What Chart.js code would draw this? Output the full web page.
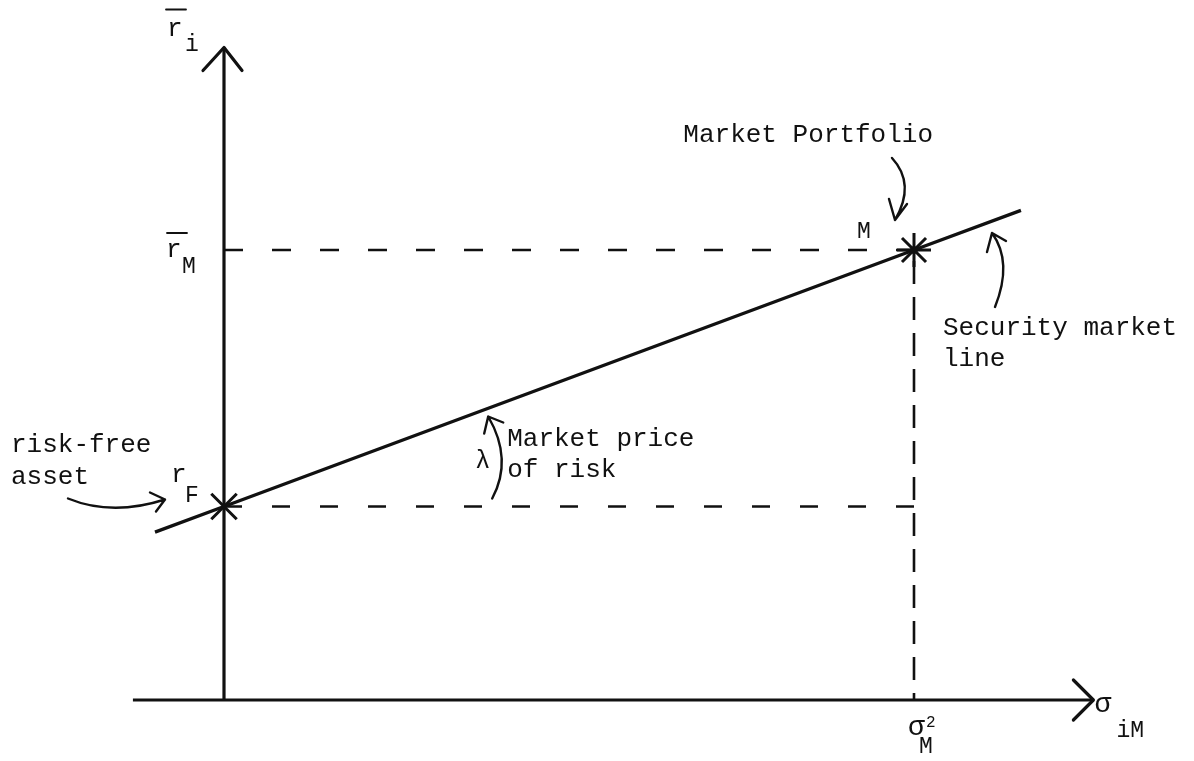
<!DOCTYPE html>
<html>
<head>
<meta charset="utf-8">
<script src="https://cdn.jsdelivr.net/npm/chart.js@4.4.1/dist/chart.umd.min.js"></script>
<style>
  html, body { margin: 0; padding: 0; background: #fff; }
  #wrap { width: 1194px; height: 761px; }
</style>
</head>
<body>
<div id="wrap"><canvas id="sml" width="1194" height="761"></canvas></div>
<script>
'use strict'

// Security market line: expected return r_i against covariance sigma_iM
const rF = 4.3          // risk-free rate
const rM = 10.0         // expected return on the market portfolio
const sigmaM2 = 1.0     // market variance
const smlX = [-0.1, 0, 1.0, 1.155]
const smlY = [3.73, 4.3, 10.0, 10.88]
const xAxisX = [-0.132, 1.26]
const yAxisY = [0, 14.5]
const lambdaAtX = 0.38  // where the market price of risk is marked

const ink = '#111'
const mono = '"Liberation Mono", "DejaVu Sans Mono", monospace'

const pts = (xs, ys) => xs.map((x, i) => ({ x: x, y: ys[i] }))

function lineSet(data, width, dash) {
	return {
		data: data,
		showLine: true,
		borderColor: ink,
		borderWidth: width,
		borderDash: dash || [],
		pointRadius: 0,
		clip: false,
	}
}

const datasets = [
	lineSet(pts(xAxisX, [0, 0]), 3.2),
	lineSet(pts([0, 0], yAxisY), 3.2),
	lineSet(pts([0, sigmaM2], [rM, rM]), 2.6, [19, 29]),
	lineSet(pts([0, sigmaM2], [rF, rF]), 2.6, [18, 30]),
	Object.assign(lineSet(pts([sigmaM2, sigmaM2], [rM, 0]), 2.6, [23, 13]), { borderDashOffset: 25 }),
	lineSet(pts(smlX, smlY), 3.4),
	{
		data: pts([0, sigmaM2], [rF, rM]),
		showLine: false,
		pointStyle: ['crossRot', 'star'],
		pointRadius: [18, 17],
		borderColor: ink,
		borderWidth: 3,
		clip: false,
	},
]

// arrow = curve from a through control c to tip b, plus two wing strokes at b
function curveArrow(ctx, a, c, b, w1, w2) {
	ctx.beginPath()
	ctx.moveTo(a[0], a[1])
	ctx.quadraticCurveTo(c[0], c[1], b[0], b[1])
	ctx.moveTo(w1[0], w1[1])
	ctx.lineTo(b[0], b[1])
	ctx.lineTo(w2[0], w2[1])
	ctx.stroke()
}

const annotations = {
	id: 'annotations',
	afterDraw(chart) {
		const { ctx } = chart
		const xs = chart.scales.x
		const ys = chart.scales.y
		const anchor = (xv, yv) => [xs.getPixelForValue(xv), ys.getPixelForValue(yv)]
		const off = (p, dx, dy) => [p[0] + dx, p[1] + dy]

		ctx.save()
		ctx.strokeStyle = ink
		ctx.fillStyle = ink
		ctx.lineCap = 'round'
		ctx.lineJoin = 'round'
		ctx.textBaseline = 'alphabetic'

		const text = (s, p, dx, dy, size, align) => {
			ctx.font = size + 'px ' + mono
			ctx.textAlign = align || 'left'
			ctx.fillText(s, p[0] + dx, p[1] + dy)
		}
		const bar = (p, x1, x2, dy) => {
			ctx.lineWidth = 1.8
			ctx.beginPath()
			ctx.moveTo(p[0] + x1, p[1] + dy)
			ctx.lineTo(p[0] + x2, p[1] + dy)
			ctx.stroke()
		}

		// axis arrowheads
		const yTop = anchor(0, yAxisY[1])
		const xTip = anchor(xAxisX[1], 0)
		ctx.lineWidth = 3.2
		ctx.beginPath()
		ctx.moveTo(yTop[0] - 21, yTop[1] + 23)
		ctx.lineTo(yTop[0], yTop[1])
		ctx.lineTo(yTop[0] + 18, yTop[1] + 23)
		ctx.moveTo(xTip[0] - 20, xTip[1] - 20)
		ctx.lineTo(xTip[0], xTip[1])
		ctx.lineTo(xTip[0] - 20, xTip[1] + 20)
		ctx.stroke()

		// axis titles
		bar(yTop, -58, -38, -38)
		text('r', yTop, -57, -12, 26)
		text('i', yTop, -39, 3, 23)
		text('\u03c3', xTip, 1, 12, 28)
		text('iM', xTip, 23, 37, 23)

		// labels on the axes
		const yM = anchor(0, rM)
		bar(yM, -57, -37, -17)
		text('r', yM, -58, 7, 26)
		text('M', yM, -42, 23, 23)

		const xM = anchor(sigmaM2, 0)
		text('\u03c3', xM, -6, 35, 28)
		text('2', xM, 12, 27, 16)
		text('M', xM, 5, 53, 23)

		// risk-free asset
		const F = anchor(0, rF)
		text('r', F, -53, -24, 26)
		text('F', F, -39, -4, 23)
		text('risk-free', F, -213, -54, 26)
		text('asset', F, -213, -22, 26)
		ctx.lineWidth = 2.4
		curveArrow(ctx, off(F, -156, -8), off(F, -112, 10), off(F, -59, -7), off(F, -74, -14), off(F, -68, 5))

		// market portfolio
		const M = anchor(sigmaM2, rM)
		text('M', M, -57, -12, 23)
		text('Market Portfolio', M, 19, -108, 26, 'right')
		curveArrow(ctx, off(M, -22, -92), off(M, 2, -66), off(M, -19, -30), off(M, -25, -51), off(M, -7, -46))

		// security market line
		text('Security market', M, 29, 85, 26)
		text('line', M, 29, 116, 26)
		curveArrow(ctx, off(M, 81, 57), off(M, 99, 12), off(M, 78, -17), off(M, 73, 2), off(M, 92, -9))

		// market price of risk
		const L = anchor(lambdaAtX, rF)
		text('\u03bb', L, -11, -38, 25)
		text('Market price', L, 21, -60, 26)
		text('of risk', L, 21, -29, 26)
		curveArrow(ctx, off(L, 6, -8), off(L, 27, -47), off(L, 2, -90), off(L, -2, -73), off(L, 17, -84))

		ctx.restore()
	},
}

new Chart(document.getElementById('sml'), {
	type: 'scatter',
	data: { datasets: datasets },
	options: {
		responsive: false,
		animation: false,
		events: [],
		layout: { padding: 0, autoPadding: false },
		plugins: {
			legend: { display: false },
			tooltip: { enabled: false },
		},
		scales: {
			x: { type: 'linear', display: false, min: -0.32464, max: 1.40580 },
			y: { type: 'linear', display: false, min: -1.35556, max: 15.55556 },
		},
	},
	plugins: [annotations],
})
</script>
</body>
</html>
